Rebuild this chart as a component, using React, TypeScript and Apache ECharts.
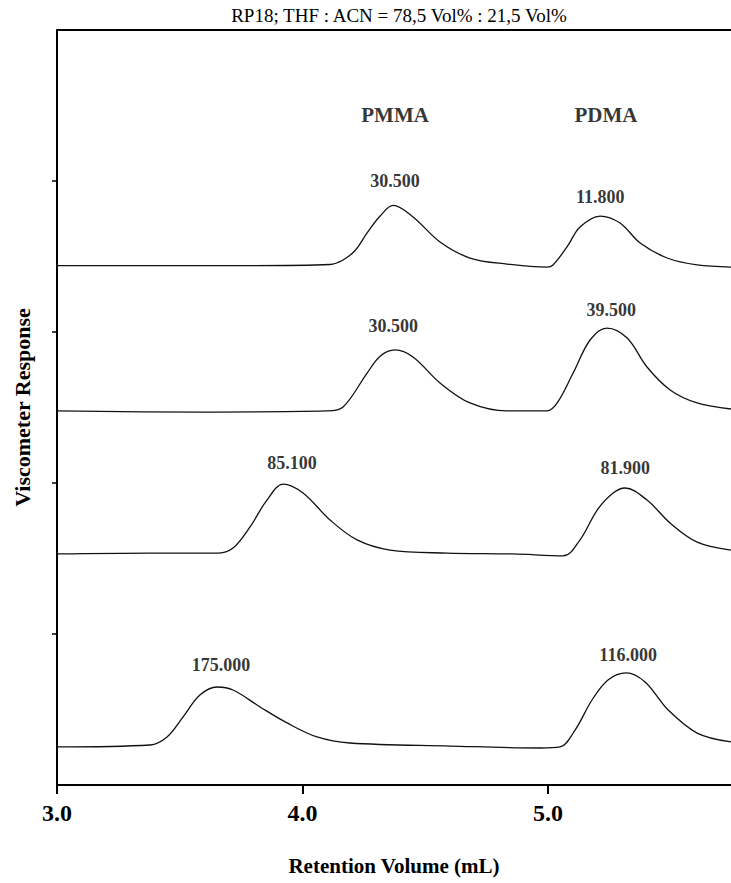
import React, { useEffect, useRef } from "react";
import * as echarts from "echarts";

const titleText = "RP18; THF : ACN = 78,5 Vol% : 21,5 Vol%";
const xAxisName = "Retention Volume (mL)";
const yAxisName = "Viscometer Response";

const xMin = 3.0;
const xMax = 5.745;
const xInterval = 1;
const yMin = 0;
const yMax = 5;
const yTickValues = [1, 2, 3, 4];

// Chromatogram traces (x = retention volume in mL, y = response, arbitrary offset units)
const trace1: [number, number][] = [
  [3.0, 3.44], [3.38, 3.44], [3.79, 3.44], [4.112, 3.447], [4.165, 3.477], [4.214, 3.54],
  [4.263, 3.656], [4.316, 3.768], [4.369, 3.838], [4.45, 3.762], [4.56, 3.596],
  [4.682, 3.49], [4.833, 3.45], [4.996, 3.43], [5.02, 3.444], [5.077, 3.563],
  [5.13, 3.695], [5.212, 3.768], [5.293, 3.722], [5.375, 3.589], [5.485, 3.49],
  [5.607, 3.444], [5.745, 3.43],
];
const trace2: [number, number][] = [
  [3.0, 2.477], [3.58, 2.47], [4.1, 2.477], [4.165, 2.503], [4.263, 2.728], [4.316, 2.84],
  [4.377, 2.881], [4.45, 2.834], [4.56, 2.662], [4.682, 2.53], [4.833, 2.477],
  [4.996, 2.477], [5.037, 2.53], [5.102, 2.728], [5.171, 2.947], [5.24, 3.026],
  [5.322, 2.96], [5.403, 2.768], [5.497, 2.616], [5.607, 2.53], [5.745, 2.49],
];
const trace3: [number, number][] = [
  [3.0, 1.53], [3.379, 1.536], [3.652, 1.536], [3.717, 1.57], [3.786, 1.709], [3.855, 1.887],
  [3.921, 1.993], [4.002, 1.934], [4.112, 1.755], [4.222, 1.623], [4.356, 1.556],
  [4.589, 1.536], [4.857, 1.53], [5.061, 1.517], [5.13, 1.623], [5.2, 1.821],
  [5.265, 1.934], [5.314, 1.967], [5.403, 1.887], [5.497, 1.735], [5.607, 1.609],
  [5.745, 1.556],
];
const trace4: [number, number][] = [
  [3.0, 0.252], [3.379, 0.265], [3.448, 0.318], [3.513, 0.45], [3.582, 0.596], [3.652, 0.649],
  [3.717, 0.629], [3.827, 0.517], [3.937, 0.411], [4.059, 0.318], [4.193, 0.278],
  [4.601, 0.258], [4.967, 0.245], [5.049, 0.252], [5.11, 0.364], [5.179, 0.563],
  [5.244, 0.695], [5.318, 0.742], [5.395, 0.682], [5.489, 0.497], [5.607, 0.344],
  [5.745, 0.285],
];
const traces = [trace1, trace2, trace3, trace4];

// Peak annotations (molar masses)
const peakLabelText = ["30.500", "11.800", "30.500", "39.500", "85.100", "81.900", "175.000", "116.000"];
const peakLabelX = [4.377, 5.212, 4.369, 5.257, 3.957, 5.314, 3.668, 5.326];
const peakLabelY = [4.0, 3.894, 3.04, 3.146, 2.132, 2.099, 0.795, 0.861];

// Polymer names
const polymerText = ["PMMA", "PDMA"];
const polymerX = [4.377, 5.236];
const polymerY = [4.437, 4.437];

const FONT = "Liberation Serif, Times New Roman, serif";

export default function App() {
  const ref = useRef<HTMLDivElement>(null);
  useEffect(() => {
    if (!ref.current) return;
    const chart = echarts.init(ref.current, null, { renderer: "svg" });
    const lineSeries = traces.map((t) => ({
      type: "line",
      data: t,
      smooth: 0.35,
      symbol: "none",
      lineStyle: { color: "#111", width: 1.3 },
      silent: true,
    }));
    const textLabel = (size: number) => ({
      show: true,
      position: "inside",
      formatter: (p: any) => p.name,
      fontFamily: FONT,
      fontWeight: "bold",
      fontSize: size,
      color: "#000",
      textBorderWidth: 0,
    });
    chart.setOption({
      animation: false,
      backgroundColor: "#fff",
      graphic: [
        {
          type: "text",
          x: 399,
          y: 15,
          style: {
            text: titleText,
            fontFamily: FONT,
            fontSize: 19,
            fill: "#000",
            textAlign: "center",
            textVerticalAlign: "middle",
          },
        },
      ],
      grid: { left: 57, right: 0, top: 30, bottom: 98 },
      xAxis: [
        {
          type: "value",
          min: xMin,
          max: xMax,
          interval: xInterval,
          position: "bottom",
          axisLine: { lineStyle: { color: "#000", width: 2 } },
          axisTick: { inside: false, length: 9, lineStyle: { color: "#000", width: 2 } },
          axisLabel: {
            formatter: (v: number) => v.toFixed(1),
            fontFamily: FONT,
            fontWeight: "bold",
            fontSize: 24,
            color: "#000",
            margin: 16,
            showMaxLabel: false,
          },
          splitLine: { show: false },
          name: xAxisName,
          nameLocation: "middle",
          nameGap: 70,
          nameTextStyle: { fontFamily: FONT, fontWeight: "bold", fontSize: 21, color: "#000" },
        },
        {
          type: "value",
          min: xMin,
          max: xMax,
          position: "top",
          axisLine: { show: true, lineStyle: { color: "#000", width: 2 } },
          axisTick: { show: false },
          axisLabel: { show: false },
          splitLine: { show: false },
        },
      ],
      yAxis: {
        type: "value",
        min: yMin,
        max: yMax,
        interval: 1,
        axisLine: { show: true, lineStyle: { color: "#000", width: 2 } },
        axisTick: { show: true, inside: false, length: 5, customValues: yTickValues, lineStyle: { color: "#000", width: 1.5 } },
        axisLabel: { show: false },
        splitLine: { show: false },
        name: yAxisName,
        nameLocation: "middle",
        nameGap: 24,
        nameTextStyle: { fontFamily: FONT, fontWeight: "bold", fontSize: 22, color: "#000" },
      },
      series: [
        ...lineSeries,
        {
          type: "scatter",
          symbolSize: 0,
          silent: true,
          data: peakLabelX.map((x, i) => ({ value: [x, peakLabelY[i]], name: peakLabelText[i] })),
          label: textLabel(18),
        },
        {
          type: "scatter",
          symbolSize: 0,
          silent: true,
          data: polymerX.map((x, i) => ({ value: [x, polymerY[i]], name: polymerText[i] })),
          label: textLabel(21),
        },
      ],
    });
    return () => chart.dispose();
  }, []);
  return (
    <div
      ref={ref}
      style={{ position: "fixed", left: 0, top: 0, width: 731, height: 883, background: "#fff" }}
    />
  );
}
